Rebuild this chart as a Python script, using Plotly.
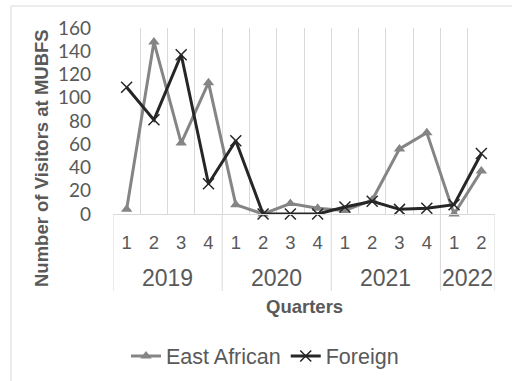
import plotly.graph_objects as go

# Visitors per quarter, 2019 Q1 – 2022 Q2
years = ["2019"] * 4 + ["2020"] * 4 + ["2021"] * 4 + ["2022"] * 2
quarters = ["1", "2", "3", "4"] * 3 + ["1", "2"]
east_african = [4, 148, 61, 113, 8, 0, 9, 5, 3, 12, 56, 70, 0, 37]
foreign = [109, 81, 137, 26, 63, 0, 0, 0, 6, 11, 4, 5, 8, 52]

idx = list(range(len(quarters)))

TEXT = "#595959"
GRID = "#d9d9d9"

fig = go.Figure()
fig.add_trace(go.Scatter(
    x=idx, y=east_african, name="East African", mode="lines+markers",
    line=dict(color="#858585", width=3),
    marker=dict(symbol="triangle-up", size=10, color="#858585"),
    cliponaxis=False,
))
fig.add_trace(go.Scatter(
    x=idx, y=foreign, name="Foreign", mode="lines+markers",
    line=dict(color="#262626", width=3),
    marker=dict(symbol="x-thin-open", size=11, color="#262626",
                line=dict(width=1.5, color="#262626")),
    cliponaxis=False,
))

W, H = 512, 381
L, R, T, B = 113, 17, 28, 167
pw, ph = W - L - R, H - T - B


def px(x):
    return (x - L) / pw


def py(y):
    return (H - B - y) / ph


# year groups: centre position for the label and boundaries for the dividers
groups = []
for i, y in enumerate(years):
    if not groups or groups[-1][0] != y:
        groups.append([y, i, i])
    else:
        groups[-1][2] = i

shapes = [dict(
    type="rect", xref="paper", yref="paper",
    x0=px(11), x1=px(520), y0=py(390), y1=py(6),
    line=dict(color=GRID, width=1), fillcolor="rgba(0,0,0,0)", layer="below",
)]
annotations = []
bounds = [g[1] - 0.5 for g in groups] + [groups[-1][2] + 0.5]
for b in bounds:
    shapes.append(dict(type="line", xref="x", yref="paper", x0=b, x1=b,
                       y0=py(214), y1=py(291), line=dict(color=GRID, width=1)))
for name, i0, i1 in groups:
    annotations.append(dict(
        text=name, xref="x", yref="paper", x=(i0 + i1) / 2, y=py(278),
        showarrow=False, xanchor="center", yanchor="middle",
        font=dict(size=23, color=TEXT)))

annotations += [
    dict(text="<b>Number of Visitors at MUBFS</b>", xref="paper", yref="paper",
         x=px(41), y=py(158), textangle=-90, showarrow=False,
         xanchor="center", yanchor="middle", font=dict(size=18.5, color=TEXT)),
    dict(text="<b>Quarters</b>", xref="paper", yref="paper",
         x=px(304), y=py(306), showarrow=False,
         xanchor="center", yanchor="middle", font=dict(size=18.5, color=TEXT)),
]

fig.update_layout(
    width=W, height=H,
    margin=dict(l=L, r=R, t=T, b=B, pad=0, autoexpand=False),
    paper_bgcolor="white", plot_bgcolor="white",
    font=dict(family="Liberation Sans, Arial, sans-serif", color=TEXT),
    showlegend=True,
    legend=dict(
        orientation="h", x=px(265), y=py(356), xanchor="center", yanchor="middle",
        font=dict(size=21.5, color=TEXT), bgcolor="rgba(0,0,0,0)",
        itemwidth=30, tracegroupgap=0,
    ),
    xaxis=dict(
        range=[-0.5, len(quarters) - 0.5], tickmode="array",
        tickvals=idx, ticktext=quarters,
        showgrid=False, zeroline=False,
        showline=True, linecolor=GRID, linewidth=1,
        minor=dict(tickmode="array", tickvals=bounds[:1] + [i + 0.5 for i in idx],
                   showgrid=True, gridcolor=GRID, gridwidth=1, ticks=""),
        ticks="", tickfont=dict(size=18.5, color=TEXT),
        ticklabelstandoff=12, automargin=False,
    ),
    yaxis=dict(
        range=[0, 160], dtick=20, showgrid=False, zeroline=False, showline=False,
        ticks="", tickfont=dict(family="Lato, Liberation Sans, sans-serif", size=19, color=TEXT),
        ticklabelstandoff=21, automargin=False,
    ),
    shapes=shapes,
    annotations=annotations,
)

fig.write_html("out.html")
